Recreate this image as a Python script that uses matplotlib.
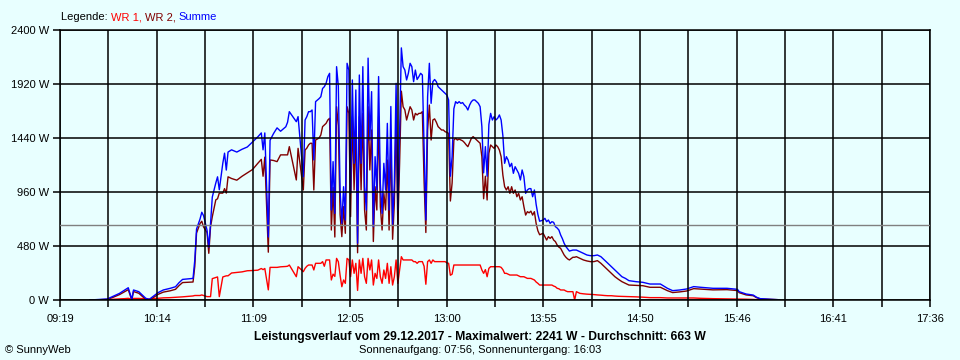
import numpy as np
import matplotlib
matplotlib.use("Agg")
import matplotlib.pyplot as plt

zeiten = [
    "09:36", "09:42", "09:46", "09:49", "09:53", "09:56", "09:58", "10:00", "10:01", "10:04",
    "10:06", "10:08", "10:10", "10:12", "10:15", "10:18", "10:22", "10:25", "10:27", "10:29",
    "10:35", "10:36", "10:37", "10:39", "10:40", "10:41", "10:43", "10:44", "10:45", "10:46",
    "10:48", "10:49", "10:50", "10:52", "10:53", "10:54", "10:55", "10:57", "11:00", "11:03",
    "11:06", "11:09", "11:12", "11:14", "11:15", "11:16", "11:18", "11:19", "11:21", "11:23",
    "11:25", "11:28", "11:29", "11:30", "11:34", "11:35", "11:38", "11:39", "11:40", "11:41",
    "11:42", "11:43", "11:44", "11:45", "11:47", "11:48", "11:49", "11:50", "11:51", "11:52",
    "11:53", "11:54", "11:55", "11:56", "11:57", "11:58", "11:59", "12:00", "12:01", "12:02",
    "12:03", "12:04", "12:05", "12:06", "12:07", "12:08", "12:09", "12:10", "12:11", "12:12",
    "12:13", "12:14", "12:15", "12:16", "12:17", "12:18", "12:19", "12:20", "12:21", "12:22",
    "12:23", "12:24", "12:25", "12:26", "12:27", "12:28", "12:29", "12:30", "12:31", "12:32",
    "12:33", "12:34", "12:35", "12:36", "12:37", "12:38", "12:39", "12:40", "12:41", "12:42",
    "12:43", "12:44", "12:45", "12:46", "12:47", "12:48", "12:49", "12:50", "12:51", "12:52",
    "12:53", "12:54", "12:55", "12:56", "12:57", "12:58", "12:59", "13:00", "13:01", "13:02",
    "13:03", "13:04", "13:05", "13:06", "13:07", "13:08", "13:09", "13:10", "13:11", "13:12",
    "13:13", "13:14", "13:15", "13:16", "13:17", "13:18", "13:19", "13:20", "13:21", "13:22",
    "13:23", "13:24", "13:25", "13:26", "13:27", "13:28", "13:29", "13:30", "13:31", "13:32",
    "13:33", "13:34", "13:35", "13:36", "13:37", "13:38", "13:39", "13:40", "13:41", "13:42",
    "13:43", "13:44", "13:45", "13:46", "13:47", "13:48", "13:49", "13:50", "13:51", "13:52",
    "13:53", "13:55", "13:56", "13:57", "13:58", "13:59", "14:00", "14:01", "14:02", "14:03",
    "14:04", "14:05", "14:06", "14:07", "14:08", "14:09", "14:10", "14:12", "14:13", "14:14",
    "14:16", "14:18", "14:20", "14:22", "14:24", "14:26", "14:28", "14:30", "14:32", "14:34",
    "14:36", "14:38", "14:40", "14:42", "14:44", "14:48", "14:52", "14:56", "15:02", "15:06",
    "15:09", "15:13", "15:17", "15:21", "15:25", "15:32", "15:40", "15:46", "15:47", "15:51",
    "15:55", "15:57", "15:59", "16:05", "16:09", "16:10",
]

summe = [
    0, 5, 9, 30, 59, 89, 109, 6, 89, 74,
    44, 15, 6, 30, 65, 89, 104, 118, 154, 183,
    192, 355, 630, 720, 780, 750, 620, 470, 680, 915,
    1040, 1095, 980, 1215, 1305, 1155, 1315, 1335, 1315, 1340,
    1360, 1405, 1450, 1485, 1335, 1485, 560, 1420, 1480, 1530,
    1500, 1540, 1580, 1674, 1585, 1630, 1096, 1600, 1630, 1674,
    1674, 1689, 1245, 1763, 1790, 1807, 1880, 1896, 1926, 1985,
    2015, 800, 1230, 770, 2074, 1900, 980, 681, 1007, 711,
    2104, 2044, 950, 1956, 1215, 1867, 505, 2000, 1215, 2074,
    1007, 800, 2150, 1422, 1852, 652, 1274, 978, 1986, 1037,
    770, 1215, 978, 1570, 800, 1720, 673, 1037, 1926, 800,
    1480, 2241, 2074, 2044, 1956, 2015, 2104, 2074, 1941, 2044,
    1960, 1985, 2015, 2000, 1363, 711, 1807, 2104, 1748, 1940,
    1960, 1940, 1896, 1881, 1867, 1852, 1837, 1822, 1778, 1100,
    1274, 1700, 1763, 1748, 1763, 1748, 1755, 1733, 1718, 1689,
    1733, 1763, 1778, 1778, 1763, 1748, 1718, 1541, 1130, 1363,
    1100, 1560, 1659, 1600, 1630, 1600, 1615, 1645, 1600, 1460,
    1215, 1274, 1244, 1185, 1215, 1126, 1185, 1156, 1126, 1067,
    1156, 1096, 948, 978, 990, 990, 918, 978, 850, 760,
    700, 711, 726, 696, 711, 681, 696, 690, 652, 640,
    622, 578, 545, 504, 475, 455, 435, 444, 444, 444,
    430, 415, 400, 394, 394, 400, 385, 356, 326, 296,
    267, 237, 207, 192, 172, 163, 157, 142, 142, 104,
    83, 89, 98, 119, 113, 104, 104, 95, 74, 53,
    44, 24, 12, 6, 3, 0,
]

wr2 = [
    0, 3, 5, 22, 48, 75, 92, 0, 75, 60,
    32, 5, 0, 18, 50, 70, 82, 95, 128, 155,
    160, 300, 595, 680, 700, 650, 600, 415, 650, 740,
    890, 900, 950, 950, 990, 950, 1095, 1080, 1065, 1100,
    1130, 1160, 1215, 1250, 1100, 1270, 425, 1245, 1240, 1230,
    1290, 1290, 1290, 1363, 1067, 1348, 978, 1333, 1350, 1378,
    1393, 1393, 978, 1422, 1440, 1467, 1541, 1555, 1570, 1600,
    1615, 622, 1000, 560, 1718, 1550, 760, 563, 830, 593,
    1718, 1659, 741, 1630, 978, 1541, 420, 1630, 978, 1659,
    800, 622, 1718, 1156, 1511, 520, 1007, 800, 1630, 830,
    622, 948, 800, 1244, 622, 1422, 540, 859, 1600, 652,
    1215, 1856, 1718, 1690, 1600, 1660, 1718, 1689, 1600, 1659,
    1645, 1659, 1659, 1674, 1050, 600, 1511, 1733, 1422, 1600,
    1610, 1580, 1541, 1526, 1511, 1511, 1496, 1490, 1481, 880,
    1040, 1422, 1437, 1422, 1430, 1422, 1415, 1400, 1380, 1363,
    1400, 1437, 1452, 1437, 1422, 1407, 1393, 1274, 900, 1100,
    889, 1304, 1378, 1363, 1348, 1378, 1363, 1333, 1274, 1110,
    1007, 978, 1007, 948, 1007, 948, 978, 918, 948, 889,
    918, 830, 755, 785, 775, 790, 755, 785, 680, 615,
    580, 593, 563, 533, 563, 548, 563, 533, 519, 489,
    470, 459, 430, 400, 380, 365, 356, 380, 380, 385,
    370, 356, 347, 341, 341, 350, 326, 296, 267, 237,
    207, 184, 163, 148, 133, 130, 127, 113, 113, 83,
    66, 72, 80, 101, 97, 90, 92, 84, 65, 45,
    38, 20, 10, 6, 3, 0,
]

wr1 = [
    0, 2, 4, 6, 10, 12, 15, 6, 14, 14,
    12, 10, 8, 12, 15, 19, 21, 24, 26, 28,
    36, 40, 40, 40, 45, 40, 30, 30, 30, 190,
    200, 205, 30, 205, 210, 215, 215, 240, 245, 250,
    260, 262, 265, 280, 270, 280, 90, 290, 290, 290,
    295, 298, 300, 311, 207, 296, 252, 281, 300, 311,
    311, 311, 267, 326, 326, 326, 341, 300, 356, 356,
    356, 178, 230, 210, 370, 340, 220, 118, 178, 148,
    370, 356, 207, 356, 237, 326, 85, 356, 237, 370,
    207, 148, 370, 267, 356, 133, 237, 192, 356, 207,
    148, 267, 192, 326, 148, 296, 133, 207, 356, 148,
    267, 385, 356, 356, 356, 356, 356, 356, 341, 341,
    326, 341, 341, 341, 300, 140, 341, 356, 326, 356,
    341, 341, 341, 341, 341, 341, 341, 330, 326, 220,
    230, 311, 311, 311, 311, 311, 311, 311, 311, 311,
    311, 311, 311, 311, 311, 311, 311, 267, 237, 270,
    207, 281, 296, 296, 296, 296, 296, 296, 290, 270,
    237, 237, 230, 222, 222, 222, 222, 222, 215, 207,
    207, 207, 200, 192, 192, 192, 185, 178, 160, 148,
    133, 133, 133, 133, 133, 133, 133, 124, 118, 104,
    100, 89, 89, 89, 80, 74, 74, 74, 0, 74,
    59, 55, 52, 50, 48, 45, 43, 40, 38, 38,
    35, 33, 32, 31, 30, 28, 25, 21, 21, 18,
    18, 18, 18, 18, 15, 12, 10, 9, 9, 7,
    5, 3, 3, 0, 0, 0,
]

x_beschriftung = ["09:19", "10:14", "11:09", "12:05", "13:00",
                  "13:55", "14:50", "15:46", "16:41", "17:36"]
y_werte = [0, 480, 960, 1440, 1920, 2400]
durchschnitt = 663


def minuten(s):
    h, m = s.split(":")
    return int(h) * 60 + int(m)


t = np.array([minuten(z) for z in zeiten])
t_start = minuten(x_beschriftung[0])
t_ende = minuten(x_beschriftung[-1])

bg = "#E8FFFF"
plt.rcParams["font.family"] = ["Liberation Sans", "DejaVu Sans"]

fig = plt.figure(figsize=(9.6, 3.6), dpi=100, facecolor=bg)
ax = fig.add_axes([60 / 960, 60 / 360, 870 / 960, 270 / 360], facecolor=bg)

# Kurven
ax.plot(t, wr1, color="#FF0000", lw=1.0, zorder=2)
ax.plot(t, wr2, color="#800000", lw=1.0, zorder=2)
ax.plot(t, summe, color="#0000FF", lw=1.0, zorder=2)
ax.axhline(durchschnitt, color="#808080", lw=1.0, zorder=3)

ax.set_xlim(t_start, t_ende)
ax.set_ylim(0, 2400)

# Achsen und Gitter
xticks = np.linspace(t_start, t_ende, 2 * len(x_beschriftung) - 1)
xlabels = []
for i in range(len(xticks)):
    xlabels.append(x_beschriftung[i // 2] if i % 2 == 0 else "")
ax.set_xticks(xticks)
ax.set_xticklabels(xlabels)
ax.set_yticks(y_werte)
ax.set_yticklabels([f"{v} W" for v in y_werte])
ax.grid(True, color="black", lw=1.1, zorder=2.5)
ax.set_axisbelow(False)
ax.tick_params(direction="out", length=5, width=1.1, color="black",
               labelsize=8, pad=3)
ax.tick_params(axis="x", pad=5)
for sp in ax.spines.values():
    sp.set_color("black")
    sp.set_linewidth(1.1)

# Legende oben links, mehrfarbig
fig.canvas.draw()
renderer = fig.canvas.get_renderer()
x_pos = 61
for teil, farbe in [("Legende: ", "black"), ("WR 1, ", "#FF0000"),
                    ("WR 2, ", "#800000"), ("Summe", "#0000FF")]:
    txt = fig.text(x_pos / 960, 1 - 17 / 360, teil, color=farbe,
                   fontsize=8, va="center", ha="left")
    bb = txt.get_window_extent(renderer)
    x_pos += bb.width

fig.text(480 / 960, 1 - 337 / 360,
         "Leistungsverlauf vom 29.12.2017 - Maximalwert: 2241 W - Durchschnitt: 663 W",
         ha="center", va="center", fontsize=8.7, fontweight="bold")
fig.text(480 / 960, 1 - 350 / 360,
         "Sonnenaufgang: 07:56, Sonnenuntergang: 16:03",
         ha="center", va="center", fontsize=8)
fig.text(5 / 960, 1 - 350 / 360, "\u00a9 SunnyWeb",
         ha="left", va="center", fontsize=8)

fig.savefig("out.png", dpi=100, facecolor=bg)
